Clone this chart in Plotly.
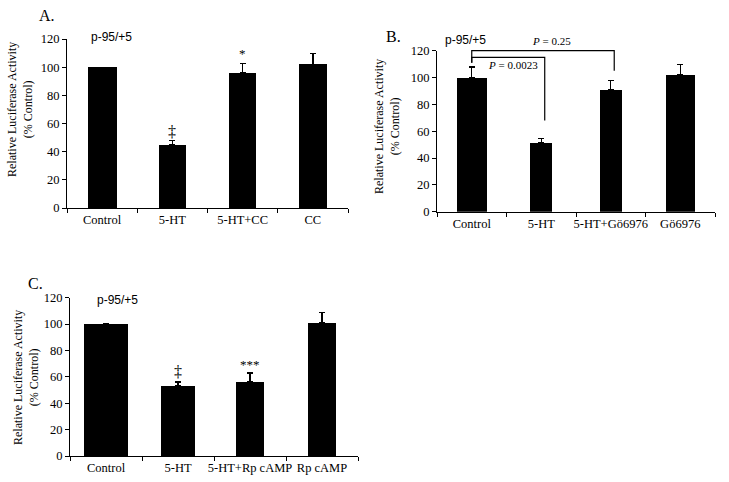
import plotly.graph_objects as go

# ---------------- data ----------------
cats_a = ["Control", "5-HT", "5-HT+CC", "CC"]
vals_a = [100, 45, 96, 102]
err_a = [0, 3, 6.7, 7.5]
marks_a = ["", "‡", "*", ""]
mark_y_a = [None, 54, 110, None]

cats_b = ["Control", "5-HT", "5-HT+Gö6976", "Gö6976"]
vals_b = [100, 51.4, 91.2, 101.9]
err_b = [7.8, 3.3, 6.4, 7.9]
# brackets: (left idx, right idx, top value, left foot, right foot)
brackets_b = [(0, 2.05, 120, 111, 105), (0, 1.05, 115, 111, 68)]
pvals_b = ["<i>P</i> = 0.25", "<i>P</i> = 0.0023"]
pval_pos_b = [(1.15, 127), (0.6, 109)]

cats_c = ["Control", "5-HT", "5-HT+Rp cAMP", "Rp cAMP"]
vals_c = [100, 53, 56, 101]
err_c = [0, 3, 7, 8]
marks_c = ["", "‡", "***", ""]
mark_y_c = [None, 64, 69, None]

yticks = [0, 20, 40, 60, 80, 100, 120]
ymax = 120
ytitle = "Relative Luciferase Activity<br>(% Control)"
construct = "p-95/+5"

# ---------------- style ----------------
W, H = 729, 482
widths_a = [0.41, 0.39, 0.39, 0.40]
widths_b = [0.43, 0.32, 0.32, 0.42]
widths_c = [0.60, 0.47, 0.40, 0.40]
SERIF = "Liberation Serif"
SANS = "Liberation Sans"


def px(x, y):
    return x / W, 1 - y / H


fig = go.Figure()

panels = [
    ("x", "y", cats_a, vals_a, err_a, widths_a),
    ("x2", "y2", cats_b, vals_b, err_b, widths_b),
    ("x3", "y3", cats_c, vals_c, err_c, widths_c),
]
for xa, ya, cats, vals, err, wd in panels:
    fig.add_trace(go.Bar(
        x=cats, y=vals, width=wd, xaxis=xa, yaxis=ya,
        marker=dict(color="black", line=dict(width=0)),
        error_y=dict(type="data", symmetric=False, array=err,
                     arrayminus=[0] * len(err), color="black",
                     thickness=1.3, width=3),
        showlegend=False, hoverinfo="skip", cliponaxis=False,
    ))

# domains in pixels
doms = {
    "a": ((67, 348), (208, 39)),
    "b": ((437, 715), (211.7, 50.7)),
    "c": ((70, 358), (456, 297.7)),
}


def xdom(k):
    (x0, x1), _ = doms[k]
    return [x0 / W, x1 / W]


def ydom(k):
    _, (y0, y1) = doms[k]
    return [1 - y0 / H, 1 - y1 / H]


def ypaper(k, v):
    d0, d1 = ydom(k)
    return d0 + (d1 - d0) * v / ymax


axcommon = dict(showline=True, linecolor="black", linewidth=1, showgrid=False,
                zeroline=False, ticks="outside", tickcolor="black", ticklen=4,
                automargin=False,
                tickfont=dict(family=SERIF, size=12.5, color="black"))

layout = dict(
    width=W, height=H, margin=dict(l=0, r=0, t=0, b=0, autoexpand=False),
    paper_bgcolor="white", plot_bgcolor="rgba(0,0,0,0)", bargap=0,
)
for i, k in enumerate(["a", "b", "c"]):
    sx = "" if i == 0 else str(i + 1)
    layout["xaxis" + sx] = dict(axcommon, domain=xdom(k), anchor="y" + sx,
                                type="category", tickson="boundaries",
                                tickangle=0, range=[-0.5, 3.5])
    layout["yaxis" + sx] = dict(axcommon, domain=ydom(k), anchor="x" + sx,
                                range=[0, ymax], tickvals=yticks)
fig.update_layout(**layout)

ann = []
C = dict(xanchor="center", yanchor="middle", showarrow=False)
# panel letters
for t, (x, y) in [("A.", (47, 15)), ("B.", (394, 37)), ("C.", (35, 283))]:
    ax, ay = px(x, y)
    ann.append(dict(C, text=t, x=ax, y=ay, xref="paper", yref="paper",
                    font=dict(family=SERIF, size=16, color="black")))
# y titles
for (x, y) in [(20, 110), (387, 127), (26, 378)]:
    ax, ay = px(x, y)
    ann.append(dict(C, text=ytitle, x=ax, y=ay, xref="paper", yref="paper",
                    textangle=-90,
                    font=dict(family=SERIF, size=12, color="black")))
# construct labels
for (x, y) in [(111, 37), (465, 40), (117, 300)]:
    ax, ay = px(x, y)
    ann.append(dict(C, text=construct, x=ax, y=ay, xref="paper", yref="paper",
                    font=dict(family=SANS, size=12, color="black")))
# significance marks
for cats, marks, ys, xr, yr in [(cats_a, marks_a, mark_y_a, "x", "y"),
                                (cats_c, marks_c, mark_y_c, "x3", "y3")]:
    for c, m, yv in zip(cats, marks, ys):
        if m:
            sz = 16 if m == "‡" else 13
            ann.append(dict(C, text=m, x=c, y=yv, xref=xr, yref=yr,
                            font=dict(family=SERIF, size=sz, color="black")))
# p-values
for t, (xv, yv) in zip(pvals_b, pval_pos_b):
    ann.append(dict(C, text=t, x=xv, y=ypaper("b", yv), xref="x2", yref="paper",
                    font=dict(family=SERIF, size=11, color="black")))
fig.update_layout(annotations=ann)

# brackets
shapes = []
for (l, r, top, lf, rf) in brackets_b:
    path = "M {l},{a} L {l},{b} L {r},{b} L {r},{c}".format(
        l=l, r=r, a=ypaper("b", lf), b=ypaper("b", top), c=ypaper("b", rf))
    shapes.append(dict(type="path", path=path, xref="x2", yref="paper",
                       line=dict(color="black", width=1.2)))
fig.update_layout(shapes=shapes)

fig.write_html("out.html", config={"displayModeBar": False},
               post_script="document.body.style.margin='0px';")
